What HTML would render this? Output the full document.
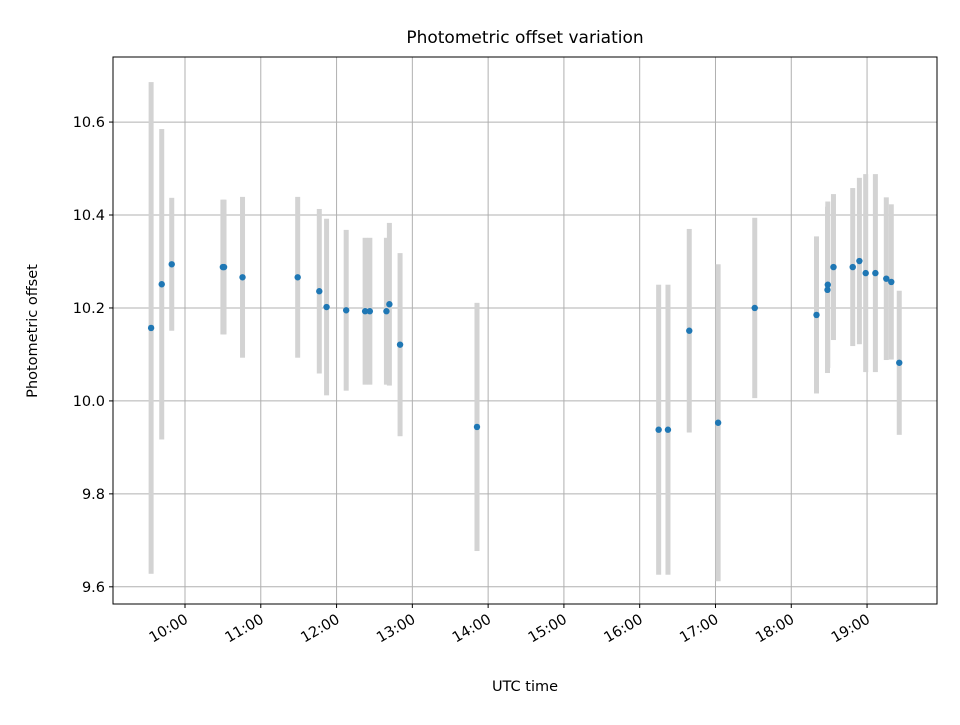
<!DOCTYPE html>
<html><head><meta charset="utf-8"><style>
body{margin:0;background:#fff;font-family:"Liberation Sans","DejaVu Sans",sans-serif;}
svg text{font-family:"DejaVu Sans","Liberation Sans",sans-serif;fill:#000;}
</style></head><body>
<svg id="chart" width="960" height="720" viewBox="0 0 960 720" xmlns="http://www.w3.org/2000/svg">
<rect x="0" y="0" width="960" height="720" fill="#fff"/>
<text x="525" y="43" font-size="17" text-anchor="middle">Photometric offset variation</text>
<g id="grid"></g><g id="bars"></g><g id="dots"></g>
<rect x="113" y="57" width="824" height="547" fill="none" stroke="#000" stroke-width="1"/>
<g id="axes"></g>
<text x="525" y="691" font-size="14.5" text-anchor="middle">UTC time</text>
<text transform="translate(37,331) rotate(-90)" font-size="14.5" text-anchor="middle">Photometric offset</text>
</svg>
<script>
const times=[9.553,9.693,9.825,10.500,10.515,10.759,11.487,11.772,11.868,12.127,12.377,12.439,12.658,12.697,12.838,13.853,16.250,16.373,16.654,17.035,17.518,18.333,18.478,18.482,18.557,18.811,18.899,18.982,19.110,19.254,19.320,19.425];
const offsets=[10.157,10.251,10.294,10.288,10.288,10.266,10.266,10.236,10.202,10.195,10.193,10.193,10.193,10.208,10.121,9.944,9.938,9.938,10.151,9.953,10.200,10.185,10.239,10.250,10.288,10.288,10.301,10.275,10.275,10.263,10.256,10.082];
const errors=[0.529,0.334,0.143,0.145,0.145,0.173,0.173,0.177,0.19,0.173,0.158,0.158,0.158,0.175,0.197,0.267,0.312,0.312,0.219,0.341,0.194,0.169,0.179,0.179,0.157,0.170,0.179,0.213,0.213,0.175,0.167,0.155];
const yTicks=[9.6,9.8,10.0,10.2,10.4,10.6];
const yTickLabels=["9.6","9.8","10.0","10.2","10.4","10.6"];
const xTicks=[10,11,12,13,14,15,16,17,18,19];
const xTickLabels=["10:00","11:00","12:00","13:00","14:00","15:00","16:00","17:00","18:00","19:00"];
const NS="http://www.w3.org/2000/svg";
const X0=113,X1=937,Y0=57,Y1=604,xmin=9.050,xmax=19.923,ymin=9.563,ymax=10.740;
const xs=h=>X0+(h-xmin)/(xmax-xmin)*(X1-X0);
const ys=v=>Y1-(v-ymin)/(ymax-ymin)*(Y1-Y0);
function mk(tag,attrs,parent){const e=document.createElementNS(NS,tag);for(const k in attrs)e.setAttribute(k,attrs[k]);parent.appendChild(e);return e;}
const grid=document.getElementById('grid'),axes=document.getElementById('axes'),bars=document.getElementById('bars'),dots=document.getElementById('dots');
yTicks.forEach((t,i)=>{const y=ys(t);
 let g=mk('line',{x1:X0,x2:X1,y1:y,y2:y,stroke:'#b0b0b0','stroke-width':1},grid);
 
 
 let tk=mk('line',{x1:X0-4,x2:X0,y1:y,y2:y,stroke:'#000'},axes);
 
 
 let tx=mk('text',{x:X0-8,y:y+5,'font-size':14.5,'text-anchor':'end'},axes);tx.textContent=yTickLabels[i];
 
 
});
xTicks.forEach((t,i)=>{const x=xs(t);
 let g=mk('line',{x1:x,x2:x,y1:Y0,y2:Y1,stroke:'#b0b0b0','stroke-width':1},grid);
 
 
 let tk=mk('line',{x1:x,x2:x,y1:Y1,y2:Y1+4,stroke:'#000'},axes);
 
 
 let tx=mk('text',{transform:`translate(${x+4},${Y1+18}) rotate(-30)`,'font-size':14.5,'text-anchor':'end'},axes);tx.textContent=xTickLabels[i];
 
 
});
times.forEach((t,i)=>{const x=xs(t),yt=ys(offsets[i]+errors[i]),yb=ys(offsets[i]-errors[i]);
 let b=mk('rect',{x:x-2.5,y:yt,width:5,height:yb-yt,fill:'#d3d3d3'},bars);
 
 
 let d=mk('circle',{cx:x,cy:ys(offsets[i]),r:3.2,fill:'#1f77b4'},dots);
 
 
});
</script>
</body></html>
